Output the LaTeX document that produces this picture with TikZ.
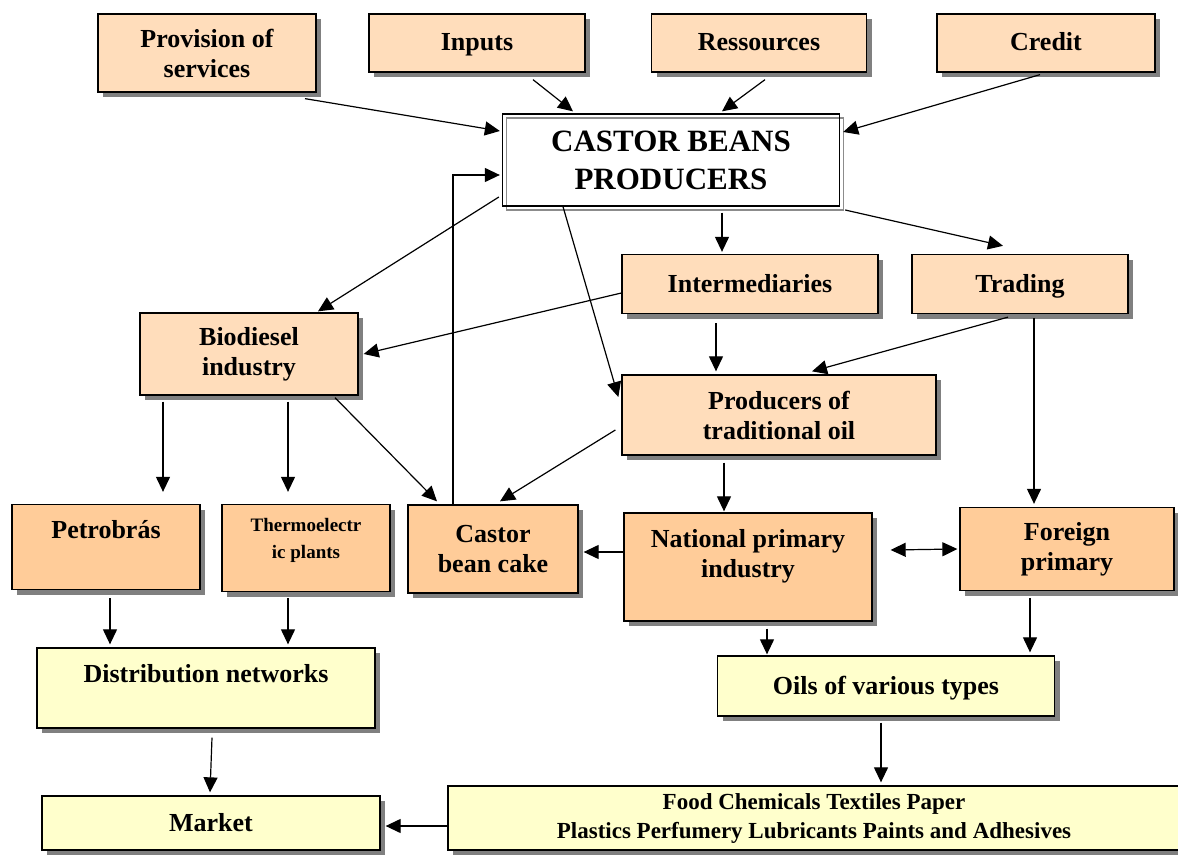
\documentclass[tikz,border=0pt]{standalone}
\usepackage{fontspec}
\setmainfont{Liberation Serif}
\usepackage{tikz}
\usetikzlibrary{arrows.meta,positioning,shadows}

\definecolor{peach}{HTML}{FFDDBB}
\definecolor{apricot}{HTML}{FFCC99}
\definecolor{cream}{HTML}{FFFFCC}

\begin{document}
\begin{tikzpicture}[x=1pt,y=-1pt]
\tikzstyle{box}=[draw,line width=1.3pt,align=center,inner sep=2pt,
  font=\bfseries\fontsize{26}{30}\selectfont,
  drop shadow={shadow xshift=5pt,shadow yshift=-5pt,fill=black!50,opacity=1}]
\tikzstyle{light}=[box,fill=peach]
\tikzstyle{dark}=[box,fill=apricot]
\tikzstyle{pale}=[box,fill=cream]
\tikzstyle{oneline}=[text height=20pt,text depth=4pt]
\tikzstyle{link}=[line width=1.2pt,-{Triangle[length=15pt,width=14pt]}]
\useasboundingbox (0,0) rectangle (1178,861);

% inputs to the producers
\node[light,minimum width=218pt,minimum height=78pt] (prov) at (207,53) {Provision of\\services};
\node[light,oneline,minimum width=216pt,minimum height=58pt] (inputs) at (477,43) {Inputs};
\node[light,oneline,minimum width=215pt,minimum height=58pt] (ress) at (759,43) {Ressources};
\node[light,oneline,minimum width=218pt,minimum height=58pt] (credit) at (1046,43) {Credit};
\node[draw,line width=1.3pt,align=center,minimum width=337pt,minimum height=92pt,
  font=\bfseries\fontsize{31}{38}\selectfont,
  drop shadow={shadow xshift=4pt,shadow yshift=-4pt,fill=none,draw=black!45,line width=1.3pt,opacity=1}]
  (castor) at (671,160) {CASTOR BEANS\\PRODUCERS};

% middle level
\node[light,oneline,minimum width=256pt,minimum height=59pt] (interm) at (750,284) {Intermediaries};
\node[light,oneline,minimum width=216pt,minimum height=59pt] (trading) at (1020,284) {Trading};
\node[light,minimum width=218pt,minimum height=82pt] (biodiesel) at (249,354) {Biodiesel\\industry};
\node[light,minimum width=314pt,minimum height=80pt] (prodoil) at (779,415) {Producers of\\traditional oil};

% industries
\node[dark,minimum width=188pt,minimum height=85pt,text depth=35pt] (petro) at (106,547) {Petrobrás};
\node[dark,minimum width=168pt,minimum height=87pt,text depth=19pt,
  font=\bfseries\fontsize{19}{27}\selectfont] (thermo) at (306,548) {Thermoelectr\\ic plants};
\node[dark,minimum width=170pt,minimum height=88pt] (cake) at (493,549) {Castor\\bean cake};
\node[dark,minimum width=248pt,minimum height=108pt,text depth=28pt] (national) at (748,567) {National primary\\industry};
\node[dark,minimum width=214pt,minimum height=83pt] (foreign) at (1067,549) {Foreign\\primary};

% outlets
\node[pale,minimum width=338pt,minimum height=80pt,text depth=29pt] (distrib) at (206,688) {Distribution networks};
\node[pale,oneline,minimum width=337pt,minimum height=60pt] (oils) at (886,686) {Oils of various types};
\node[pale,oneline,minimum width=338pt,minimum height=54pt] (market) at (211,823) {Market};
\node[pale,minimum width=732pt,minimum height=64pt,
  font=\bfseries\fontsize{23}{29}\selectfont] (food) at (814,818)
  {Food Chemicals Textiles Paper\\Plastics Perfumery Lubricants Paints and Adhesives};

% connectors
\draw[link] ([xshift=98pt,yshift=-6pt]prov.south) -- ([xshift=-2pt,yshift=29pt]castor.west);
\draw[link] ([xshift=56pt,yshift=-7pt]inputs.south) -- ([xshift=-98pt,yshift=2pt]castor.north);
\draw[link] ([xshift=6pt,yshift=-7pt]ress.south) -- ([xshift=51pt,yshift=2pt]castor.north);
\draw[link] ([xshift=-6pt,yshift=-2pt]credit.south) -- ([xshift=3pt,yshift=28pt]castor.east);
\draw[link] ([xshift=-40pt]cake.north) |- ([xshift=-2pt,yshift=-15pt]castor.west);
\draw[link] ([xshift=-3pt,yshift=-37pt]castor.west) -- ([xshift=69pt,yshift=1pt]biodiesel.north);
\draw[link] ([xshift=-108pt]castor.south) -- ([xshift=-3pt,yshift=18pt]prodoil.west);
\draw[link] ([xshift=51pt,yshift=-6pt]castor.south) -- ([xshift=-28pt,yshift=2pt]interm.north);
\draw[link] ([xshift=5pt,yshift=-50pt]castor.east) -- ([xshift=-17pt,yshift=8pt]trading.north);
\draw[link] ([yshift=-9pt]interm.west) -- ([xshift=5pt]biodiesel.east);
\draw[link] ([xshift=-34pt,yshift=-9pt]interm.south) -- ([xshift=-63pt,yshift=3pt]prodoil.north);
\draw[link] ([xshift=-12pt,yshift=-3pt]trading.south) -- ([xshift=33pt,yshift=3pt]prodoil.north);
\draw[link] ([xshift=14pt,yshift=-4pt]trading.south) -- ([xshift=-33pt,yshift=3pt]foreign.north);
\draw[link] ([xshift=-86pt,yshift=-6pt]biodiesel.south) -- ([xshift=57pt,yshift=12pt]petro.north);
\draw[link] ([xshift=39pt,yshift=-6pt]biodiesel.south) -- ([xshift=-18pt,yshift=12pt]thermo.north);
\draw[link] ([xshift=86pt,yshift=-2pt]biodiesel.south) -- ([xshift=-56pt,yshift=3pt]cake.north);
\draw[link] ([xshift=-6pt,yshift=-15pt]prodoil.west) -- ([xshift=7pt,yshift=3pt]cake.north);
\draw[link] ([xshift=-55pt,yshift=-7pt]prodoil.south) -- ([xshift=-24pt,yshift=1pt]national.north);
\draw[link] ([yshift=15pt]national.west) -- ([xshift=5pt,yshift=-3pt]cake.east);
\draw[link,{Triangle[length=15pt,width=14pt]}-{Triangle[length=15pt,width=14pt]}]
  ([xshift=18pt,yshift=17pt]national.east) -- ([xshift=-2pt,yshift=0pt]foreign.west);
\draw[link] ([xshift=4pt,yshift=-8pt]petro.south) -- ([xshift=-96pt,yshift=3pt]distrib.north);
\draw[link] ([xshift=-18pt,yshift=-6pt]thermo.south) -- ([xshift=82pt,yshift=3pt]distrib.north);
\draw[link] ([xshift=19pt,yshift=-7pt]national.south) -- ([xshift=-119pt,yshift=1pt]oils.north);
\draw[link] ([xshift=-37pt,yshift=-7pt]foreign.south) -- ([xshift=144pt,yshift=3pt]oils.north);
\draw[link] ([xshift=6pt,yshift=-9pt]distrib.south) -- ([xshift=-1pt,yshift=3pt]market.north);
\draw[link] ([xshift=-5pt,yshift=-6pt]oils.south) -- ([xshift=67pt,yshift=3pt]food.north);
\draw[link] ([yshift=-8pt]food.west) -- ([xshift=5pt,yshift=-3pt]market.east);
\end{tikzpicture}
\end{document}
